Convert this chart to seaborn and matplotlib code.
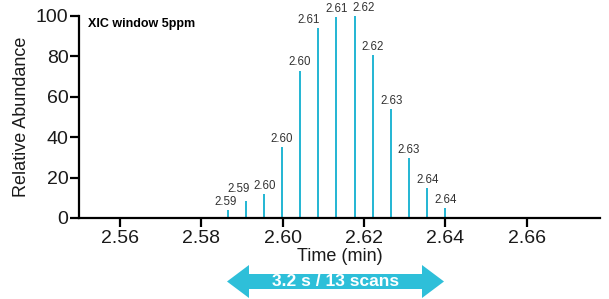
import matplotlib
matplotlib.use("Agg")
import matplotlib.pyplot as plt
import seaborn as sns
import pandas as pd
from matplotlib.patches import Polygon

# ---- data ----
scan_times = [2.5824, 2.5867, 2.5911, 2.5955, 2.5999, 2.6043, 2.6088, 2.6132,
              2.6177, 2.6222, 2.6267, 2.6311, 2.6356, 2.6400, 2.6444]
abundance = [0.6, 3.8, 8.2, 11.7, 35.0, 73.0, 94.0, 99.6,
             100.0, 80.5, 54.0, 29.8, 15.0, 5.0, 0.6]
peak_labels = ["", "2.59", "2.59", "2.60", "2.60", "2.60", "2.61", "2.61",
               "2.62", "2.62", "2.63", "2.63", "2.64", "2.64", ""]
label_nudge_px = [0, -3, -8, 0, 0, 0, -10, 0, 9, 0, 0, 0, 0, 0, 0]
label_lift_px = [0, 0, 4, 0, 0, 0, 0, 0, 0, 0, 0, 0, 0, 0, 0]
x_ticks = [2.56, 2.58, 2.60, 2.62, 2.64, 2.66]
y_ticks = [0, 20, 40, 60, 80, 100]
title_text = "XIC window 5ppm"
arrow_text = "3.2 s / 13 scans"

bar_color = "#28B7D4"
arrow_color = "#2EBFD9"

sns.set_style("ticks")
plt.rcParams["font.family"] = ["Liberation Sans", "DejaVu Sans"]

fig = plt.figure(figsize=(6.09, 2.99), dpi=100)
ax = fig.add_axes([79 / 609, (299 - 218) / 299, (600 - 79) / 609, (218 - 16) / 299])

df = pd.DataFrame({"time": scan_times, "abund": abundance})
sns.barplot(data=df, x="time", y="abund", native_scale=True, orient="x",
            width=0.11, color=bar_color, saturation=1, edgecolor="none", ax=ax)

ax.set_xlim(2.55, 2.678)
ax.set_ylim(0, 100)
ax.set_xticks(x_ticks)
ax.set_xticklabels([f"{t:.2f}" for t in x_ticks])
ax.set_yticks(y_ticks)
ax.set_yticklabels([str(t) for t in y_ticks])
ax.tick_params(axis="both", labelsize=14, width=1.6, length=6.5, color="black",
               labelcolor="#1a1a1a")
ax.tick_params(axis="y", pad=1)
ax.tick_params(axis="x", pad=2)
for s in ["left", "bottom"]:
    ax.spines[s].set_linewidth(1.6)
    ax.spines[s].set_color("black")
sns.despine(ax=ax)

ax.set_xlabel("Time (min)", fontsize=13, labelpad=1, color="#1a1a1a")
ax.set_ylabel("Relative Abundance", fontsize=13, labelpad=4, color="#1a1a1a")

for t, a, lab, dx, dy in zip(scan_times, abundance, peak_labels,
                             label_nudge_px, label_lift_px):
    if lab:
        ax.annotate(lab, (t, a), xytext=(dx * 0.72, 1.5 + dy * 0.72),
                    textcoords="offset points", ha="center", va="bottom",
                    fontsize=8.3, color="#333333")

ax.text(0.018, 0.99, title_text, transform=ax.transAxes, ha="left", va="top",
        fontsize=9, fontweight="bold", color="black")

# double-headed arrow in figure pixel coordinates
W, H = 609, 299
xl, xr = 227, 444
hb_l, hb_r = 249, 422
yc = 281.5
bh, hh = 7.5, 16.5
pts = [(xl, yc), (hb_l, yc - hh), (hb_l, yc - bh), (hb_r, yc - bh), (hb_r, yc - hh),
       (xr, yc), (hb_r, yc + hh), (hb_r, yc + bh), (hb_l, yc + bh), (hb_l, yc + hh)]
pts_fig = [(x / W, (H - y) / H) for x, y in pts]
fig.patches.append(Polygon(pts_fig, closed=True, transform=fig.transFigure,
                           facecolor=arrow_color, edgecolor="none"))
fig.text(335.5 / W, (H - yc) / H, arrow_text, ha="center", va="center",
         fontsize=12.5, fontweight="bold", color="white")

fig.savefig("out.png", dpi=100)
